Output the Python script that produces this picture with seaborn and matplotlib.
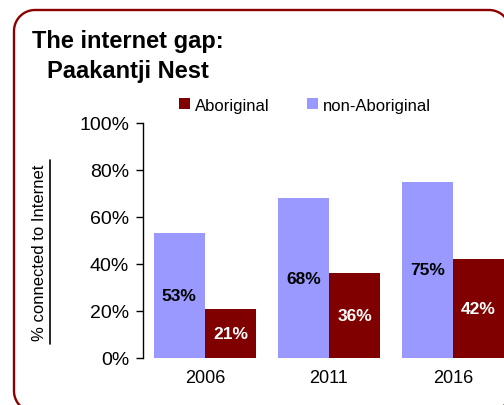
import matplotlib
matplotlib.use("Agg")
import matplotlib.pyplot as plt
import seaborn as sns
import pandas as pd
import numpy as np
from matplotlib.patches import Patch
from matplotlib.lines import Line2D

years = ["2006", "2011", "2016"]
aboriginal = [21, 36, 42]
non_aboriginal = [53, 68, 75]
groups = ["non-Aboriginal", "Aboriginal"]
colors = {"Aboriginal": "#800000", "non-Aboriginal": "#9999FF"}
yticks = [0, 20, 40, 60, 80, 100]
ytick_labels = ["0%", "20%", "40%", "60%", "80%", "100%"]
title_lines = ["The internet gap:", "Paakantji Nest"]
ylabel = "% connected to Internet"

df = pd.DataFrame({
    "year": years * 2,
    "group": ["non-Aboriginal"] * 3 + ["Aboriginal"] * 3,
    "value": non_aboriginal + aboriginal,
})

sns.set_theme(style="white")
plt.rcParams["font.family"] = ["Liberation Sans", "DejaVu Sans"]
plt.rcParams["text.color"] = "black"
plt.rcParams["xtick.color"] = "black"
plt.rcParams["ytick.color"] = "black"
plt.rcParams["axes.labelcolor"] = "black"

W, H = 504, 406
fig = plt.figure(figsize=(W / 100, H / 100), dpi=100)
fig.patch.set_facecolor("white")

# rounded frame outline (pixel coords, y measured from top)
fx0, fy0, fx1, fy1, r = 14, 11, 510, 413, 21
def arc(cx, cy, t0, t1, n=30):
    t = np.radians(np.linspace(t0, t1, n))
    return list(cx + r * np.cos(t)), list(cy + r * np.sin(t))
xs, ys = [], []
for cx, cy, t0, t1 in [(fx0 + r, fy1 - r, 90, 180), (fx0 + r, fy0 + r, 180, 270),
                       (fx1 - r, fy0 + r, 270, 360), (fx1 - r, fy1 - r, 0, 90)]:
    ax_, ay_ = arc(cx, cy, t0, t1)
    xs += ax_
    ys += ay_
fig.lines.append(Line2D(np.array(xs) / W, (H - np.array(ys)) / H, transform=fig.transFigure,
                        color="#8B0000", linewidth=1.7, solid_joinstyle="round", zorder=5))

ax_left, ax_right, ax_top, ax_bottom = 143, 504, 124, 359
ax = fig.add_axes([ax_left / W, (H - ax_bottom) / H, (ax_right - ax_left) / W, (ax_bottom - ax_top) / H])
ax.patch.set_alpha(0)

sns.barplot(data=df, x="year", y="value", hue="group", hue_order=groups,
            palette=colors, width=0.83, saturation=1, linewidth=0,
            legend=False, ax=ax)

ax.set_xlim(-0.5, -0.5 + (ax_right - ax_left) / 124)
ax.set_ylim(0, 100)
ax.set_yticks(yticks)
ax.set_yticklabels(ytick_labels, fontsize=14)
ax.tick_params(axis="y", direction="out", length=5, width=1, color="black", pad=5, left=True)
ax.tick_params(axis="x", length=0, pad=8, labelsize=13)
ax.set_xlabel("")
ax.set_ylabel("")
for s in ["top", "right", "bottom"]:
    ax.spines[s].set_visible(False)
ax.spines["left"].set_color("black")
ax.spines["left"].set_linewidth(1)

label_colors = {"non-Aboriginal": "black", "Aboriginal": "white"}
for cont, g in zip(ax.containers, groups):
    ax.bar_label(cont, labels=[f"{int(v)}%" for v in cont.datavalues],
                 label_type="center", color=label_colors[g],
                 fontsize=12.5, fontweight="bold")

# legend
handles = [Patch(facecolor=colors["Aboriginal"], edgecolor="none"),
           Patch(facecolor=colors["non-Aboriginal"], edgecolor="none")]
fig.legend(handles, ["Aboriginal", "non-Aboriginal"], ncol=2, frameon=False,
           loc="center left", bbox_to_anchor=(171 / W, (H - 106) / H),
           fontsize=12, borderpad=0, handlelength=0.66, handleheight=0.66,
           handletextpad=0.25, columnspacing=2.3)

# title
fig.text(32 / W, (H - 48) / H, title_lines[0], fontsize=17, fontweight="bold",
         va="baseline", ha="left")
fig.text(47 / W, (H - 78) / H, title_lines[1], fontsize=17, fontweight="bold",
         va="baseline", ha="left")

# y label with underline
fig.text(40 / W, (H - 253) / H, ylabel, rotation=90, fontsize=12,
         va="center", ha="center")
fig.lines.append(Line2D([50 / W, 50 / W], [(H - 161) / H, (H - 345) / H],
                        transform=fig.transFigure, color="black", linewidth=1.2))

fig.savefig("out.png", dpi=100)
